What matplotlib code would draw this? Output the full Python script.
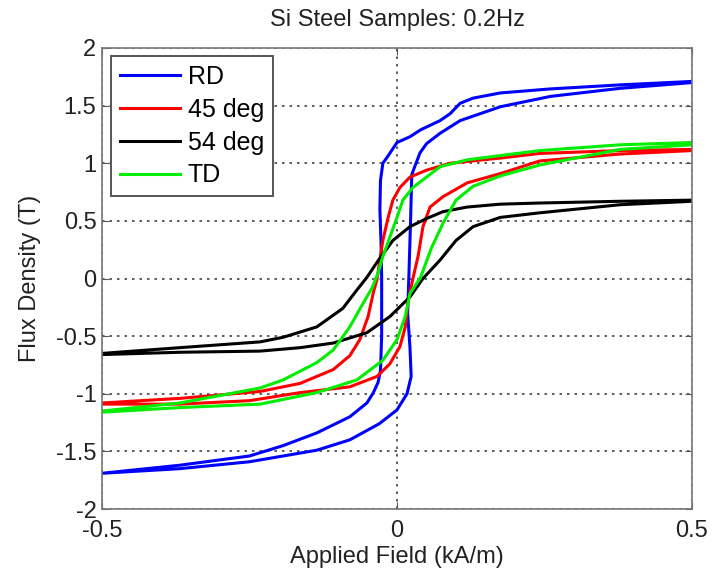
import matplotlib
matplotlib.use("Agg")
import matplotlib.pyplot as plt
from matplotlib.ticker import FormatStrFormatter, MultipleLocator

plt.rcParams['font.family'] = ['Liberation Sans', 'DejaVu Sans']

# Hysteresis loops: descending (upper) branch H from +0.5 to -0.5,
# ascending (lower) branch H from -0.5 to +0.5. H in kA/m, B in T.
rd_up_h = [0.5, 0.378, 0.26, 0.175, 0.129, 0.107, 0.09, 0.073, 0.04, 0.022, 0.0, -0.017,
           -0.024, -0.028, -0.029, -0.027, -0.026, -0.026, -0.028, -0.032, -0.04, -0.051,
           -0.08, -0.136, -0.193, -0.25, -0.368, -0.5]
rd_up_b = [1.71, 1.68, 1.645, 1.61, 1.565, 1.52, 1.43, 1.37, 1.29, 1.23, 1.18, 1.05,
           1.0, 0.85, 0.6, 0.3, 0.0, -0.5, -0.8, -0.9, -0.99, -1.08,
           -1.2, -1.34, -1.45, -1.54, -1.62, -1.69]
rd_lo_h = [-0.5, -0.368, -0.25, -0.136, -0.08, -0.03, 0.0, 0.017, 0.024, 0.022, 0.018,
           0.02, 0.023, 0.025, 0.03, 0.039, 0.05, 0.073, 0.107, 0.175, 0.26, 0.378, 0.5]
rd_lo_b = [-1.69, -1.65, -1.59, -1.49, -1.40, -1.26, -1.14, -1.0, -0.85, -0.6, -0.3,
           0.0, 0.5, 0.9, 0.97, 1.09, 1.17, 1.26, 1.37, 1.49, 1.58, 1.65, 1.70]

d45_up_h = [0.5, 0.378, 0.242, 0.175, 0.09, 0.05, 0.022, 0.005, -0.007, -0.015, -0.024,
            -0.029, -0.034, -0.04, -0.049, -0.063, -0.08, -0.108, -0.164, -0.232, -0.368, -0.5]
d45_up_b = [1.12, 1.11, 1.085, 1.045, 1.0, 0.94, 0.88, 0.79, 0.68, 0.53, 0.33,
            0.16, -0.01, -0.12, -0.33, -0.53, -0.67, -0.79, -0.91, -0.98, -1.04, -1.08]
d45_lo_h = [-0.5, -0.368, -0.25, -0.164, -0.08, -0.034, -0.012, 0.005, 0.014, 0.019,
            0.027, 0.036, 0.044, 0.056, 0.078, 0.119, 0.175, 0.242, 0.378, 0.5]
d45_lo_b = [-1.09, -1.09, -1.06, -0.99, -0.94, -0.85, -0.74, -0.59, -0.42, -0.19,
            0.0, 0.2, 0.45, 0.62, 0.71, 0.83, 0.91, 1.02, 1.08, 1.11]

d54_up_h = [0.5, 0.378, 0.242, 0.175, 0.119, 0.078, 0.05, 0.022, -0.007, -0.034, -0.051,
            -0.068, -0.08, -0.092, -0.136, -0.193, -0.232, -0.368, -0.5]
d54_up_b = [0.68, 0.67, 0.655, 0.645, 0.62, 0.58, 0.52, 0.45, 0.33, 0.14, 0.01,
            -0.10, -0.18, -0.26, -0.42, -0.51, -0.55, -0.60, -0.65]
d54_lo_h = [-0.5, -0.368, -0.232, -0.164, -0.108, -0.051, -0.012, 0.022, 0.044, 0.073,
            0.1, 0.129, 0.175, 0.242, 0.378, 0.5]
d54_lo_b = [-0.66, -0.64, -0.63, -0.60, -0.56, -0.47, -0.33, -0.16, 0.0, 0.16,
            0.33, 0.45, 0.53, 0.57, 0.64, 0.67]

td_up_h = [0.5, 0.378, 0.242, 0.119, 0.073, 0.05, 0.027, 0.01, 0.0, -0.012, -0.024,
           -0.032, -0.042, -0.058, -0.08, -0.108, -0.136, -0.193, -0.232, -0.368, -0.5]
td_up_b = [1.18, 1.16, 1.11, 1.03, 0.97, 0.88, 0.79, 0.68, 0.53, 0.36, 0.19,
           0.05, -0.08, -0.22, -0.42, -0.62, -0.73, -0.88, -0.95, -1.08, -1.15]
td_lo_h = [-0.5, -0.368, -0.232, -0.136, -0.068, -0.024, 0.0, 0.014, 0.022, 0.04,
           0.058, 0.078, 0.1, 0.129, 0.175, 0.242, 0.378, 0.5]
td_lo_b = [-1.16, -1.12, -1.09, -0.99, -0.88, -0.71, -0.53, -0.33, -0.13, 0.01,
           0.26, 0.48, 0.68, 0.80, 0.89, 0.985, 1.12, 1.16]

labels = ['RD', '45 deg', '54 deg', 'TD']
colors = ['#0000ff', '#ff0000', '#000000', '#00ee00']
loops = [(rd_up_h, rd_up_b, rd_lo_h, rd_lo_b),
         (d45_up_h, d45_up_b, d45_lo_h, d45_lo_b),
         (d54_up_h, d54_up_b, d54_lo_h, d54_lo_b),
         (td_up_h, td_up_b, td_lo_h, td_lo_b)]

FS = 17

fig = plt.figure(figsize=(7.12, 5.77), dpi=100)
ax = fig.add_axes([102 / 712, 68 / 577, 590 / 712, 461 / 577])

for (uh, ub, lh, lb), col, lab in zip(loops, colors, labels):
    ax.plot(uh + lh, ub + lb, color=col, lw=2.2, label=lab,
            solid_joinstyle='round')

ax.set_xlim(-0.5, 0.5)
ax.set_ylim(-2, 2)
ax.xaxis.set_major_locator(MultipleLocator(0.5))
ax.yaxis.set_major_locator(MultipleLocator(0.5))
ax.xaxis.set_major_formatter(FormatStrFormatter('%g'))
ax.yaxis.set_major_formatter(FormatStrFormatter('%g'))
ax.grid(True, color='#444444', linestyle=(0, (1.5, 3)), lw=1.2)
ax.tick_params(direction='in', length=5, top=True, right=True, labelsize=FS,
               color='#555555', labelcolor='#222222')
ax.tick_params(axis='x', pad=8)
ax.tick_params(axis='y', pad=4)
for sp in ax.spines.values():
    sp.set_color('#777777')
    sp.set_linewidth(1.2)

ax.set_title('Si Steel Samples: 0.2Hz', fontsize=FS, color='#222222', pad=16)
ax.set_xlabel('Applied Field (kA/m)', fontsize=FS, color='#222222', labelpad=3)
ax.set_ylabel('Flux Density (T)', fontsize=FS, color='#222222', labelpad=11)

leg = ax.legend(loc='upper left', bbox_to_anchor=(0.016, 0.982), fontsize=FS + 1,
                frameon=True, fancybox=False, edgecolor='#555555', framealpha=1,
                handlelength=2.4, handletextpad=0.3, labelspacing=0.35,
                borderpad=0.35, borderaxespad=0)
leg.get_frame().set_linewidth(1.4)

fig.savefig('out.png', dpi=100)
